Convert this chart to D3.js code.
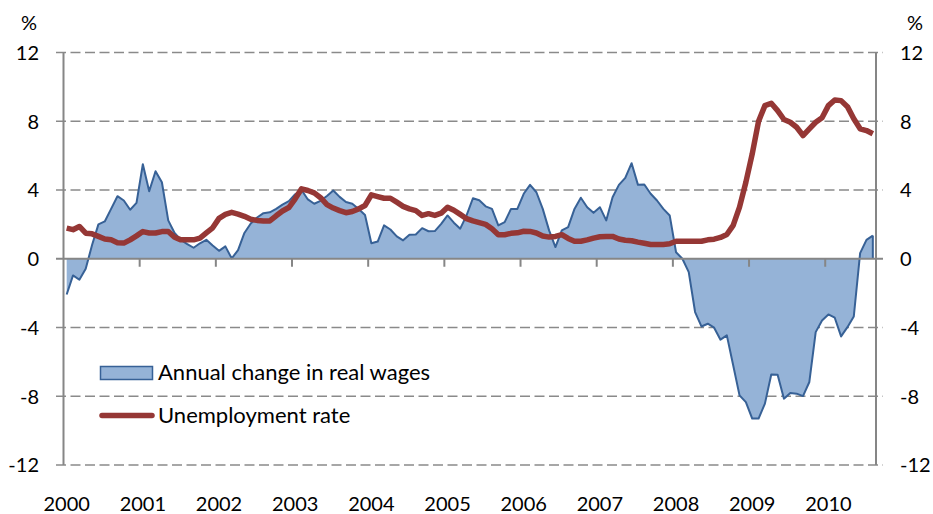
<!DOCTYPE html>
<html>
<head>
<meta charset="utf-8">
<script src="https://cdn.jsdelivr.net/npm/d3@7"></script>
<style>
  html, body { margin: 0; padding: 0; background: #fff; }
  svg { display: block; }
  text { font-family: Lato, "Open Sans", sans-serif; font-size: 20px; fill: #000; }
  .legend-text { font-size: 22px; }
</style>
</head>
<body>
<svg id="chart" width="933" height="514"></svg>
<script>
// ---- data ----
const years = ["2000","2001","2002","2003","2004","2005","2006","2007","2008","2009","2010"];
const yTicks = [-12, -8, -4, 0, 4, 8, 12];

// monthly real wage change, Jan 2000 - Aug 2010
const wages = [
  -2.08, -0.97, -1.22, -0.58, 0.8, 2.0, 2.17, 2.9, 3.64, 3.39, 2.85, 3.25,
  5.5, 3.93, 5.09, 4.45, 2.23, 1.5, 1.1, 0.85, 0.64, 0.9, 1.1, 0.77,
  0.46, 0.72, 0.02, 0.5, 1.5, 2.05, 2.4, 2.65, 2.7, 2.9, 3.15, 3.35,
  3.75, 4.0, 3.45, 3.2, 3.37, 3.65, 3.97, 3.6, 3.3, 3.2, 2.9, 2.55,
  0.9, 1.0, 1.94, 1.7, 1.3, 1.07, 1.4, 1.41, 1.78, 1.6, 1.61, 2.03,
  2.52, 2.1, 1.75, 2.52, 3.52, 3.4, 3.05, 2.9, 1.94, 2.13, 2.9, 2.9,
  3.78, 4.3, 3.87, 2.9, 1.65, 0.68, 1.65, 1.84, 2.9, 3.55, 3.0, 2.67,
  3.0, 2.23, 3.58, 4.3, 4.71, 5.56, 4.3, 4.32, 3.78, 3.39, 2.9, 2.52,
  0.38, 0, -0.78, -3.1, -3.94, -3.78, -4.01, -4.71, -4.46, -6.2, -7.95, -8.34,
  -9.3, -9.3, -8.43, -6.73, -6.75, -8.14, -7.81, -7.85, -7.99, -7.17, -4.27, -3.59,
  -3.24, -3.43, -4.52, -3.98, -3.36, 0.33, 1.1, 1.35
];

// monthly unemployment rate
const unemployment = [
  1.78, 1.69, 1.88, 1.49, 1.45, 1.3, 1.15, 1.1, 0.93, 0.91, 1.1, 1.33,
  1.58, 1.5, 1.5, 1.58, 1.59, 1.25, 1.1, 1.1, 1.1, 1.2, 1.5, 1.8,
  2.35, 2.58, 2.7, 2.6, 2.47, 2.3, 2.23, 2.2, 2.2, 2.5, 2.78, 2.98,
  3.49, 4.07, 3.97, 3.83, 3.55, 3.15, 2.95, 2.8, 2.68, 2.75, 2.9, 3.1,
  3.72, 3.62, 3.52, 3.52, 3.29, 3.05, 2.9, 2.8, 2.52, 2.62, 2.52, 2.65,
  3.0, 2.82, 2.58, 2.33, 2.2, 2.1, 2.0, 1.75, 1.4, 1.4, 1.48, 1.51,
  1.6, 1.59, 1.5, 1.32, 1.26, 1.3, 1.4, 1.18, 1.02, 1.02, 1.1, 1.2,
  1.28, 1.3, 1.3, 1.15, 1.08, 1.05, 0.97, 0.9, 0.83, 0.83, 0.83, 0.87,
  1.02, 1.02, 1.02, 1.02, 1.02, 1.1, 1.14, 1.24, 1.41, 1.94, 3.0, 4.45,
  6.1, 8.0, 8.91, 9.05, 8.62, 8.1, 7.94, 7.65, 7.17, 7.56, 7.94, 8.2,
  8.91, 9.24, 9.2, 8.85, 8.14, 7.56, 7.46, 7.27
];

const seriesNames = ["Annual change in real wages", "Unemployment rate"];

// categories: one per month
const months = [];
years.forEach(yr => { for (let m = 1; m <= 12; m++) months.push(yr + "-" + String(m).padStart(2, "0")); });
const cats = months.slice(0, wages.length);

// ---- layout ----
const L = 63.5, R = 876, T = 52.5, B = 465;
const svg = d3.select("#chart");

const x = d3.scaleBand().domain(cats).range([L, R]).padding(0);
const bw = x.bandwidth();
const cx = c => x(c) + bw / 2;
const y = d3.scaleLinear().domain([-12, 12]).range([B, T]);

const gridColor = "#8a8a8a";
const axisColor = "#868686";

// gridlines (dashed), excluding 0
svg.append("g").selectAll("line")
  .data(yTicks.filter(v => v !== 0))
  .join("line")
  .attr("x1", 56).attr("x2", 883)
  .attr("y1", d => y(d)).attr("y2", d => y(d))
  .attr("stroke", gridColor).attr("stroke-width", 1.6)
  .attr("stroke-dasharray", "10,4.5");

// wages area
const wData = cats.map((c, i) => ({ c, v: wages[i] }));
const area = d3.area().x(d => cx(d.c)).y0(y(0)).y1(d => y(d.v));
const lineW = d3.line().x(d => cx(d.c)).y(d => y(d.v));
svg.append("path").datum(wData).attr("d", area).attr("fill", "#95b3d7");
svg.append("path").datum(wData).attr("d", lineW)
  .attr("fill", "none").attr("stroke", "#376196").attr("stroke-width", 2).attr("stroke-linejoin", "round");
// close the right edge of the area
svg.append("line")
  .attr("x1", cx(cats[cats.length - 1])).attr("x2", cx(cats[cats.length - 1]))
  .attr("y1", y(0)).attr("y2", y(wages[wages.length - 1]))
  .attr("stroke", "#376196").attr("stroke-width", 2);

// axes
svg.append("line").attr("x1", 56).attr("x2", 883).attr("y1", y(0)).attr("y2", y(0))
  .attr("stroke", axisColor).attr("stroke-width", 2);
svg.append("g").selectAll("line")
  .data(years.slice(1).map(yr => yr + "-01"))
  .join("line")
  .attr("x1", d => x(d)).attr("x2", d => x(d))
  .attr("y1", y(0)).attr("y2", y(0) + 8)
  .attr("stroke", axisColor).attr("stroke-width", 2);
svg.append("line").attr("x1", L).attr("x2", L).attr("y1", T).attr("y2", B)
  .attr("stroke", axisColor).attr("stroke-width", 2);
svg.append("line").attr("x1", R).attr("x2", R).attr("y1", T).attr("y2", B)
  .attr("stroke", axisColor).attr("stroke-width", 2);

// unemployment line
const uData = cats.map((c, i) => ({ c, v: unemployment[i] }));
svg.append("path").datum(uData)
  .attr("d", d3.line().x(d => cx(d.c)).y(d => y(d.v)))
  .attr("fill", "none").attr("stroke", "#953735").attr("stroke-width", 5.5)
  .attr("stroke-linejoin", "round").attr("stroke-linecap", "butt");

// y labels
svg.append("g").selectAll("text").data(yTicks).join("text")
  .attr("x", 39).attr("y", d => y(d) + 7.3).attr("text-anchor", "end")
  .text(d => d);
svg.append("g").selectAll("text").data(yTicks).join("text")
  .attr("x", 900).attr("y", d => y(d) + 7.3).attr("text-anchor", "start")
  .text(d => d);
svg.append("text").attr("x", 29).attr("y", 30).attr("text-anchor", "middle").text("%");
svg.append("text").attr("x", 915).attr("y", 30).attr("text-anchor", "middle").text("%");

// x labels
svg.append("g").selectAll("text").data(years).join("text")
  .attr("x", d => cx(d + "-01")).attr("y", 511).attr("text-anchor", "middle")
  .text(d => d);

// legend
const lg = svg.append("g");
lg.append("rect").attr("x", 100.5).attr("y", 366.5).attr("width", 52).attr("height", 13)
  .attr("fill", "#95b3d7").attr("stroke", "#376196").attr("stroke-width", 1.5);
lg.append("text").attr("class", "legend-text").attr("x", 158).attr("y", 380).text(seriesNames[0]);
lg.append("line").attr("x1", 102).attr("x2", 152).attr("y1", 415.5).attr("y2", 415.5)
  .attr("stroke", "#953735").attr("stroke-width", 5.5).attr("stroke-linecap", "round");
lg.append("text").attr("class", "legend-text").attr("x", 158).attr("y", 423).text(seriesNames[1]);
</script>
</body>
</html>
